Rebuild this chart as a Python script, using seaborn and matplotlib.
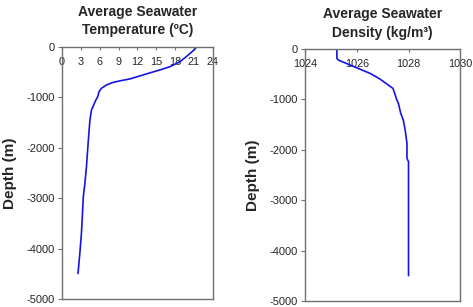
import matplotlib
matplotlib.use("Agg")
import matplotlib.pyplot as plt
import seaborn as sns
import pandas as pd

# temperature profile
temp_depth = [0, -47, -158, -290, -390, -455, -502, -574, -634, -673, -700, -752,
              -818, -884, -983, -1050, -1248, -1446, -1842, -2370, -2700, -2964,
              -3690, -4085, -4495]
temp_val = [21.4, 21.1, 20.1, 18.8, 17.2, 15.6, 14.3, 12.4, 10.8, 9.2, 8.2, 7.1,
            6.3, 5.9, 5.7, 5.4, 4.7, 4.45, 4.2, 3.9, 3.65, 3.4, 3.1, 2.85, 2.55]

# density profile
dens_depth = [0, -185, -218, -483, -595, -780, -1012, -1078, -1276, -1409, -1607,
              -1872, -2169, -2235, -4497]
dens_val = [1025.23, 1025.23, 1025.29, 1026.52, 1026.90, 1027.40, 1027.55, 1027.61,
            1027.70, 1027.80, 1027.87, 1027.94, 1027.94, 1028.0, 1028.0]

temp_ticks = [0, 3, 6, 9, 12, 15, 18, 21, 24]
dens_ticks = [1024, 1026, 1028, 1030]
depth_ticks = [0, -1000, -2000, -3000, -4000, -5000]

sns.set_style("white")
plt.rcParams['font.family'] = ['Liberation Sans', 'DejaVu Sans']

df_t = pd.DataFrame({'Temp': temp_val, 'Depth': temp_depth})
df_d = pd.DataFrame({'Density': dens_val, 'Depth': dens_depth})

fig = plt.figure(figsize=(4.73, 3.07), dpi=100)
ax1 = fig.add_axes([0.131, 0.026, 0.319, 0.821])
ax2 = fig.add_axes([0.645, 0.0195, 0.328, 0.8205])

line_col = '#1414e6'
spine_col = '#707070'


def style_axis(ax, xticks, xlim, title):
    ax.set_xlim(*xlim)
    ax.set_ylim(-5000, 0)
    ax.set_xticks(xticks)
    ax.set_yticks(depth_ticks)
    ax.set_xticklabels([str(t) for t in xticks])
    ax.set_yticklabels([str(t) for t in depth_ticks])
    # x axis sits at depth 0 (top), frame line at the bottom
    ax.spines['bottom'].set_position(('data', 0))
    ax.spines['top'].set_position(('data', -5000))
    for s in ax.spines.values():
        s.set_color(spine_col)
        s.set_linewidth(1.0)
    ax.tick_params(axis='x', direction='out', length=2.5, width=0.8,
                   color=spine_col, labelsize=7.8, pad=4.5, bottom=True)
    ax.tick_params(axis='y', direction='out', length=3, width=0.8,
                   color=spine_col, labelsize=8, pad=2, left=True)
    ax.set_xlabel('')
    ax.set_ylabel('Depth (m)', fontsize=11, fontweight='bold', labelpad=7)
    ax.set_title(title, fontsize=10, fontweight='bold', linespacing=1.4, pad=9)


sns.lineplot(data=df_t, x='Temp', y='Depth', sort=False, estimator=None,
             color=line_col, linewidth=1.2, ax=ax1)
style_axis(ax1, temp_ticks, (0, 24), 'Average Seawater\nTemperature (ºC)')

sns.lineplot(data=df_d, x='Density', y='Depth', sort=False, estimator=None,
             color=line_col, linewidth=1.2, ax=ax2)
style_axis(ax2, dens_ticks, (1024, 1030), 'Average Seawater\nDensity (kg/m\u00b3)')

fig.savefig('out.png', dpi=100)
